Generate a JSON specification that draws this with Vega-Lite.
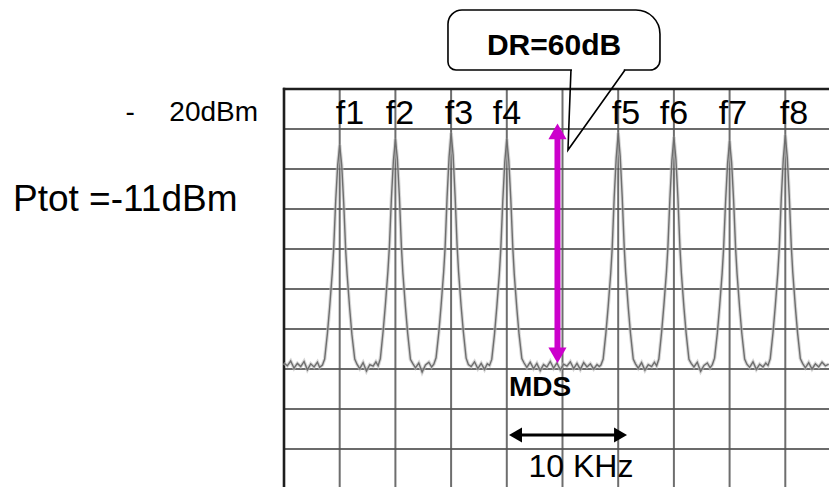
{
  "$schema": "https://vega.github.io/schema/vega-lite/v6.json",
  "width": 829,
  "height": 487,
  "autosize": {"type": "none"},
  "padding": 0,
  "background": "white",
  "config": {"view": {"stroke": null}},
  "datasets": {
    "hgrid": [{"db": -30}, {"db": -40}, {"db": -50}, {"db": -60}, {"db": -70}, {"db": -80}, {"db": -90}, {"db": -100}, {"db": -110}],
    "vgrid": [{"k": 5}, {"k": 10}, {"k": 15}, {"k": 20}, {"k": 25}, {"k": 30}, {"k": 35}, {"k": 40}, {"k": 45}],
    "trace": [
      {"k": 0, "db": -88.5}, {"k": 0.3, "db": -89.2}, {"k": 0.6, "db": -88}, {"k": 0.9, "db": -89.8}, {"k": 1.2, "db": -88.6}, {"k": 1.5, "db": -89.4}, {"k": 1.8, "db": -88.1}, {"k": 2.1, "db": -90.2}, {"k": 2.4, "db": -88.7}, {"k": 2.7, "db": -89.5}, {"k": 3.0, "db": -88.3}, {"k": 3.2, "db": -89.6},
      {"k": 3.45, "db": -89}, {"k": 3.65, "db": -87.5}, {"k": 3.9, "db": -81}, {"k": 4.1, "db": -74.5}, {"k": 4.33, "db": -66}, {"k": 4.46, "db": -60}, {"k": 4.64, "db": -48}, {"k": 4.82, "db": -39}, {"k": 5, "db": -34}, {"k": 5.18, "db": -39}, {"k": 5.36, "db": -48.5}, {"k": 5.54, "db": -60.5}, {"k": 5.67, "db": -66.5}, {"k": 5.9, "db": -75}, {"k": 6.1, "db": -81.5}, {"k": 6.35, "db": -87.5}, {"k": 6.55, "db": -88.8},
      {"k": 6.8, "db": -89.9}, {"k": 7.1, "db": -88.4}, {"k": 7.4, "db": -90.5}, {"k": 7.7, "db": -88.9}, {"k": 8.0, "db": -89.3}, {"k": 8.25, "db": -88.2},
      {"k": 8.45, "db": -89.2}, {"k": 8.65, "db": -87.4}, {"k": 8.9, "db": -80.5}, {"k": 9.1, "db": -74}, {"k": 9.33, "db": -65.5}, {"k": 9.46, "db": -59.5}, {"k": 9.64, "db": -47.5}, {"k": 9.82, "db": -38}, {"k": 10, "db": -32.5}, {"k": 10.18, "db": -37.5}, {"k": 10.36, "db": -47}, {"k": 10.54, "db": -59.5}, {"k": 10.67, "db": -66}, {"k": 10.9, "db": -74.5}, {"k": 11.1, "db": -81}, {"k": 11.35, "db": -87.6}, {"k": 11.55, "db": -88.6},
      {"k": 11.8, "db": -89.7}, {"k": 12.1, "db": -88.5}, {"k": 12.4, "db": -90.8}, {"k": 12.7, "db": -89}, {"k": 13.0, "db": -88.3}, {"k": 13.25, "db": -89.5},
      {"k": 13.45, "db": -88.8}, {"k": 13.65, "db": -87.2}, {"k": 13.9, "db": -80.8}, {"k": 14.1, "db": -74.2}, {"k": 14.33, "db": -65.8}, {"k": 14.46, "db": -59.8}, {"k": 14.64, "db": -47}, {"k": 14.82, "db": -37}, {"k": 15, "db": -31}, {"k": 15.18, "db": -36.5}, {"k": 15.36, "db": -46.8}, {"k": 15.54, "db": -59.2}, {"k": 15.67, "db": -65.7}, {"k": 15.9, "db": -74.3}, {"k": 16.1, "db": -80.7}, {"k": 16.35, "db": -87.3}, {"k": 16.55, "db": -88.9},
      {"k": 16.8, "db": -89.4}, {"k": 17.1, "db": -88.2}, {"k": 17.4, "db": -89.9}, {"k": 17.7, "db": -88.6}, {"k": 18.0, "db": -90.1}, {"k": 18.25, "db": -88.7},
      {"k": 18.45, "db": -89.1}, {"k": 18.65, "db": -87.6}, {"k": 18.9, "db": -81.2}, {"k": 19.1, "db": -74.6}, {"k": 19.33, "db": -66.2}, {"k": 19.46, "db": -60.1}, {"k": 19.64, "db": -48}, {"k": 19.82, "db": -38.2}, {"k": 20, "db": -32.5}, {"k": 20.18, "db": -38}, {"k": 20.36, "db": -47.6}, {"k": 20.54, "db": -59.8}, {"k": 20.67, "db": -66.3}, {"k": 20.9, "db": -74.8}, {"k": 21.1, "db": -81.3}, {"k": 21.35, "db": -87.4}, {"k": 21.55, "db": -88.5},
      {"k": 21.8, "db": -89.6}, {"k": 22.1, "db": -88.3}, {"k": 22.4, "db": -89.9}, {"k": 22.7, "db": -88.6}, {"k": 23.0, "db": -90.4}, {"k": 23.3, "db": -88.9}, {"k": 23.6, "db": -89.5}, {"k": 23.9, "db": -88.1}, {"k": 24.2, "db": -89.8}, {"k": 24.5, "db": -88.5}, {"k": 24.8, "db": -90.2}, {"k": 25.1, "db": -88.8}, {"k": 25.4, "db": -89.3}, {"k": 25.7, "db": -88.2}, {"k": 26.0, "db": -89.9}, {"k": 26.3, "db": -88.6}, {"k": 26.6, "db": -90.1}, {"k": 26.9, "db": -88.4}, {"k": 27.2, "db": -89.5}, {"k": 27.5, "db": -88.7}, {"k": 27.8, "db": -90}, {"k": 28.1, "db": -88.9}, {"k": 28.3, "db": -89.4},
      {"k": 28.45, "db": -89}, {"k": 28.65, "db": -87.5}, {"k": 28.9, "db": -80.9}, {"k": 29.1, "db": -74.4}, {"k": 29.33, "db": -66}, {"k": 29.46, "db": -59.9}, {"k": 29.64, "db": -47.2}, {"k": 29.82, "db": -37.3}, {"k": 30, "db": -31}, {"k": 30.18, "db": -36.8}, {"k": 30.36, "db": -47}, {"k": 30.54, "db": -59.5}, {"k": 30.67, "db": -65.9}, {"k": 30.9, "db": -74.5}, {"k": 31.1, "db": -81}, {"k": 31.35, "db": -87.5}, {"k": 31.55, "db": -88.7},
      {"k": 31.8, "db": -89.8}, {"k": 32.1, "db": -88.4}, {"k": 32.4, "db": -90.3}, {"k": 32.7, "db": -88.9}, {"k": 33.0, "db": -89.4}, {"k": 33.25, "db": -88.3},
      {"k": 33.45, "db": -89.2}, {"k": 33.65, "db": -87.5}, {"k": 33.9, "db": -80.7}, {"k": 34.1, "db": -74.1}, {"k": 34.33, "db": -65.8}, {"k": 34.46, "db": -59.7}, {"k": 34.64, "db": -47.5}, {"k": 34.82, "db": -37.8}, {"k": 35, "db": -32}, {"k": 35.18, "db": -37.5}, {"k": 35.36, "db": -47.2}, {"k": 35.54, "db": -59.6}, {"k": 35.67, "db": -66}, {"k": 35.9, "db": -74.6}, {"k": 36.1, "db": -81.1}, {"k": 36.35, "db": -87.6}, {"k": 36.55, "db": -88.6},
      {"k": 36.8, "db": -89.5}, {"k": 37.1, "db": -88.3}, {"k": 37.4, "db": -90.6}, {"k": 37.7, "db": -89.1}, {"k": 38.0, "db": -88.5}, {"k": 38.25, "db": -89.7},
      {"k": 38.45, "db": -88.9}, {"k": 38.65, "db": -87.3}, {"k": 38.9, "db": -81}, {"k": 39.1, "db": -74.5}, {"k": 39.33, "db": -66.1}, {"k": 39.46, "db": -60}, {"k": 39.64, "db": -48.2}, {"k": 39.82, "db": -38.6}, {"k": 40, "db": -33}, {"k": 40.18, "db": -38.3}, {"k": 40.36, "db": -47.8}, {"k": 40.54, "db": -59.9}, {"k": 40.67, "db": -66.2}, {"k": 40.9, "db": -74.7}, {"k": 41.1, "db": -81.2}, {"k": 41.35, "db": -87.5}, {"k": 41.55, "db": -88.8},
      {"k": 41.8, "db": -89.6}, {"k": 42.1, "db": -88.2}, {"k": 42.4, "db": -90.1}, {"k": 42.7, "db": -88.8}, {"k": 43.0, "db": -89.5}, {"k": 43.25, "db": -88.5},
      {"k": 43.45, "db": -89.1}, {"k": 43.65, "db": -87.4}, {"k": 43.9, "db": -80.8}, {"k": 44.1, "db": -74.3}, {"k": 44.33, "db": -65.9}, {"k": 44.46, "db": -59.8}, {"k": 44.64, "db": -47.3}, {"k": 44.82, "db": -37.5}, {"k": 45, "db": -31.5}, {"k": 45.18, "db": -37.2}, {"k": 45.36, "db": -47.1}, {"k": 45.54, "db": -59.4}, {"k": 45.67, "db": -65.8}, {"k": 45.9, "db": -74.4}, {"k": 46.1, "db": -80.9}, {"k": 46.35, "db": -87.4}, {"k": 46.55, "db": -88.6},
      {"k": 46.8, "db": -89.7}, {"k": 47.1, "db": -88.4}, {"k": 47.4, "db": -90}, {"k": 47.7, "db": -88.7}, {"k": 48.0, "db": -89.5}, {"k": 48.3, "db": -88.3}, {"k": 48.6, "db": -89.2}, {"k": 48.9, "db": -88.8}
    ],
    "flabels": [
      {"label": "f1", "k": 5.92, "db": -28.75}, {"label": "f2", "k": 10.41, "db": -28.75}, {"label": "f3", "k": 15.71, "db": -28.75}, {"label": "f4", "k": 20.02, "db": -28.75},
      {"label": "f5", "k": 30.7, "db": -28.75}, {"label": "f6", "k": 35.01, "db": -28.75}, {"label": "f7", "k": 40.3, "db": -28.75}, {"label": "f8", "k": 45.78, "db": -28.75}
    ]
  },
  "layer": [
    {
      "data": {"name": "hgrid"},
      "mark": {"type": "rule", "stroke": "#3a3a3a", "strokeWidth": 1.6},
      "encoding": {
        "y": {"field": "db", "type": "quantitative", "scale": {"domain": [-119.5, 2.25], "nice": false, "zero": false}, "axis": null},
        "x": {"datum": 0, "type": "quantitative", "scale": {"domain": [-25.494, 48.923], "nice": false, "zero": false}, "axis": null},
        "x2": {"datum": 48.923}
      }
    },
    {
      "data": {"name": "vgrid"},
      "mark": {"type": "rule", "stroke": "#555555", "strokeWidth": 2, "opacity": 0.85},
      "encoding": {
        "x": {"field": "k", "type": "quantitative", "axis": null},
        "y": {"datum": -20, "type": "quantitative", "axis": null},
        "y2": {"datum": -119.5}
      }
    },
    {
      "data": {"values": [{"db": -20}]},
      "mark": {"type": "rule", "stroke": "#1e1e1e", "strokeWidth": 2.6},
      "encoding": {
        "y": {"field": "db", "type": "quantitative", "axis": null},
        "x": {"datum": -0.1, "type": "quantitative", "axis": null},
        "x2": {"datum": 48.923}
      }
    },
    {
      "data": {"values": [{"k": 0}]},
      "mark": {"type": "rule", "stroke": "#1e1e1e", "strokeWidth": 2.6},
      "encoding": {
        "x": {"field": "k", "type": "quantitative", "axis": null},
        "y": {"datum": -19.7, "type": "quantitative", "axis": null},
        "y2": {"datum": -119.5}
      }
    },
    {
      "data": {"name": "trace"},
      "mark": {"type": "line", "stroke": "#bdbdbd", "strokeWidth": 3.5, "opacity": 0.6},
      "encoding": {
        "x": {"field": "k", "type": "quantitative", "axis": null},
        "y": {"field": "db", "type": "quantitative", "axis": null}
      }
    },
    {
      "data": {"name": "trace"},
      "mark": {"type": "line", "stroke": "#6e6e6e", "strokeWidth": 1.4},
      "encoding": {
        "x": {"field": "k", "type": "quantitative", "axis": null},
        "y": {"field": "db", "type": "quantitative", "axis": null}
      }
    },
    {
      "data": {"values": [{"k": 24.55, "db": -31.5, "db2": -85.5}]},
      "mark": {"type": "rule", "stroke": "#cc00cc", "strokeWidth": 6},
      "encoding": {
        "x": {"field": "k", "type": "quantitative", "axis": null},
        "y": {"field": "db", "type": "quantitative", "axis": null},
        "y2": {"field": "db2"}
      }
    },
    {
      "data": {"values": [{"k": 24.55, "db": -30.6, "dir": "triangle-up"}, {"k": 24.55, "db": -86.6, "dir": "triangle-down"}]},
      "mark": {"type": "point", "filled": true, "color": "#cc00cc", "opacity": 1, "size": 330},
      "encoding": {
        "x": {"field": "k", "type": "quantitative", "axis": null},
        "y": {"field": "db", "type": "quantitative", "axis": null},
        "shape": {"field": "dir", "type": "nominal", "scale": null, "legend": null}
      }
    },
    {
      "data": {"values": [{"k": 20.8, "k2": 30.2, "db": -106.5}]},
      "mark": {"type": "rule", "stroke": "black", "strokeWidth": 3},
      "encoding": {
        "x": {"field": "k", "type": "quantitative", "axis": null},
        "x2": {"field": "k2"},
        "y": {"field": "db", "type": "quantitative", "axis": null}
      }
    },
    {
      "data": {"values": [{"k": 20.78, "db": -106.5, "dir": "triangle-left"}, {"k": 30.21, "db": -106.5, "dir": "triangle-right"}]},
      "mark": {"type": "point", "filled": true, "color": "black", "opacity": 1, "size": 225},
      "encoding": {
        "x": {"field": "k", "type": "quantitative", "axis": null},
        "y": {"field": "db", "type": "quantitative", "axis": null},
        "shape": {"field": "dir", "type": "nominal", "scale": null, "legend": null}
      }
    },
    {
      "data": {"values": [{"k": 14.72, "k2": 33.75, "db": -0.25, "db2": -15.25}]},
      "mark": {"type": "rect", "fill": "white", "stroke": "black", "strokeWidth": 1.6, "cornerRadiusTopLeft": 14, "cornerRadiusTopRight": 24, "cornerRadiusBottomLeft": 8, "cornerRadiusBottomRight": 10},
      "encoding": {
        "x": {"field": "k", "type": "quantitative", "axis": null},
        "x2": {"field": "k2"},
        "y": {"field": "db", "type": "quantitative", "axis": null},
        "y2": {"field": "db2"}
      }
    },
    {
      "data": {"values": [{"k": 25.85, "k2": 30.5, "db": -15.25}]},
      "mark": {"type": "rule", "stroke": "white", "strokeWidth": 3},
      "encoding": {
        "x": {"field": "k", "type": "quantitative", "axis": null},
        "x2": {"field": "k2"},
        "y": {"field": "db", "type": "quantitative", "axis": null}
      }
    },
    {
      "data": {"values": [{"k": 25.76, "db": -15.25, "o": 1}, {"k": 25.49, "db": -35.25, "o": 2}, {"k": 30.61, "db": -15.25, "o": 3}]},
      "mark": {"type": "line", "stroke": "black", "strokeWidth": 1.6},
      "encoding": {
        "x": {"field": "k", "type": "quantitative", "axis": null},
        "y": {"field": "db", "type": "quantitative", "axis": null},
        "order": {"field": "o", "type": "quantitative"}
      }
    },
    {
      "data": {"name": "flabels"},
      "mark": {"type": "text", "font": "Liberation Sans", "fontSize": 34, "align": "center", "baseline": "alphabetic", "color": "black"},
      "encoding": {
        "x": {"field": "k", "type": "quantitative", "axis": null},
        "y": {"field": "db", "type": "quantitative", "axis": null},
        "text": {"field": "label"}
      }
    },
    {
      "data": {"values": [{"label": "-", "k": -13.8, "db": -28.0}]},
      "mark": {"type": "text", "font": "Liberation Sans", "fontSize": 28, "align": "center", "baseline": "alphabetic", "color": "black"},
      "encoding": {
        "x": {"field": "k", "type": "quantitative", "axis": null},
        "y": {"field": "db", "type": "quantitative", "axis": null},
        "text": {"field": "label"}
      }
    },
    {
      "data": {"values": [{"label": "20dBm", "k": -2.33, "db": -28.0}]},
      "mark": {"type": "text", "font": "Liberation Sans", "fontSize": 28, "align": "right", "baseline": "alphabetic", "color": "black"},
      "encoding": {
        "x": {"field": "k", "type": "quantitative", "axis": null},
        "y": {"field": "db", "type": "quantitative", "axis": null},
        "text": {"field": "label"}
      }
    },
    {
      "data": {"values": [{"label": "Ptot =-11dBm", "k": -24.33, "db": -50.5}]},
      "mark": {"type": "text", "font": "Liberation Sans", "fontSize": 37, "align": "left", "baseline": "alphabetic", "color": "black"},
      "encoding": {
        "x": {"field": "k", "type": "quantitative", "axis": null},
        "y": {"field": "db", "type": "quantitative", "axis": null},
        "text": {"field": "label"}
      }
    },
    {
      "data": {"values": [{"label": "MDS", "k": 22.98, "db": -96.75}]},
      "mark": {"type": "text", "font": "Liberation Sans", "fontSize": 28, "fontWeight": "bold", "align": "center", "baseline": "alphabetic", "color": "black"},
      "encoding": {
        "x": {"field": "k", "type": "quantitative", "axis": null},
        "y": {"field": "db", "type": "quantitative", "axis": null},
        "text": {"field": "label"}
      }
    },
    {
      "data": {"values": [{"label": "10 KHz", "k": 26.66, "db": -117}]},
      "mark": {"type": "text", "font": "Liberation Sans", "fontSize": 32, "align": "center", "baseline": "alphabetic", "color": "black"},
      "encoding": {
        "x": {"field": "k", "type": "quantitative", "axis": null},
        "y": {"field": "db", "type": "quantitative", "axis": null},
        "text": {"field": "label"}
      }
    },
    {
      "data": {"values": [{"label": "DR=60dB", "k": 24.24, "db": -11.5}]},
      "mark": {"type": "text", "font": "Liberation Sans", "fontSize": 30, "fontWeight": "bold", "align": "center", "baseline": "alphabetic", "color": "black"},
      "encoding": {
        "x": {"field": "k", "type": "quantitative", "axis": null},
        "y": {"field": "db", "type": "quantitative", "axis": null},
        "text": {"field": "label"}
      }
    }
  ]
}
